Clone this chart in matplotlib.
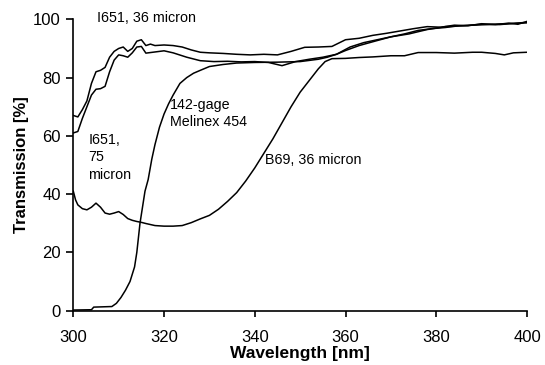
import matplotlib
matplotlib.use("Agg")
import matplotlib.pyplot as plt

plt.rcParams['font.family'] = ['Liberation Sans', 'DejaVu Sans']

# I651, 36 micron
wl_i651_36 = [300, 301, 302, 303, 304, 305, 306, 307, 308, 309, 310, 311, 312,
              313, 314, 315, 316, 317, 318, 320, 322, 324, 326, 328, 330, 333,
              336, 339, 342, 345, 348, 351, 354, 357, 360, 363, 366, 369, 372,
              375, 378, 381, 384, 387, 390, 393, 396, 398, 400]
tr_i651_36 = [67, 66.5, 69, 72, 78, 82, 82.5, 83.5, 87, 89, 90, 90.5, 89,
              90, 92.5, 93, 91, 91.5, 91, 91.2, 91, 90.5, 89.5, 88.7, 88.5, 88.3,
              88, 87.8, 88, 87.8, 89, 90.4, 90.5, 90.7, 93, 93.5, 94.5, 95.2, 96,
              96.8, 97.5, 97.3, 98, 97.8, 98.5, 98.2, 98.7, 98.3, 99.3]

# I651, 75 micron
wl_i651_75 = [300, 301, 302, 303, 304, 305, 306, 307, 308, 309, 310, 311, 312,
              313, 314, 315, 316, 318, 320, 322, 325, 328, 331, 334, 337, 340,
              343, 346, 349, 352, 355, 358, 361, 364, 367, 370, 373, 376, 379,
              382, 385, 388, 391, 394, 397, 400]
tr_i651_75 = [61, 61.5, 66, 70, 74, 76, 76.2, 77, 82, 86, 87.8, 87.5, 87,
              88.5, 90.5, 90.7, 88.4, 88.8, 89.2, 88.5, 87, 85.8, 85.5, 85.6, 85.4, 85.5,
              85.2, 84.1, 85.5, 86.3, 87, 88, 90.5, 92, 93, 94, 95, 96.2, 96.8,
              97.2, 97.8, 98, 98.2, 98.4, 98.6, 98.8]

# 142-gage Melinex 454
wl_melinex = [300, 304, 304.5, 308.5, 309.5, 310.5, 311.5, 312.5, 313.5, 314,
              314.7, 315.3, 315.8, 316.5, 317.3, 318, 319, 320, 321, 322, 323.5,
              325, 326.5, 328, 330, 333, 336, 340, 345, 350, 354, 356, 358, 360,
              363, 366, 370, 374, 378, 382, 386, 390, 394, 397, 400]
tr_melinex = [0.2, 0.3, 1.2, 1.4, 2.5, 4.5, 7, 10, 15, 20,
              30, 36, 41, 45, 52, 57, 63, 67.5, 71, 74, 78,
              80, 81.5, 82.5, 83.8, 84.5, 85, 85.2, 85.3, 85.5, 86.3, 87, 88, 89.3,
              91, 92.3, 94, 95, 96.5, 97.5, 97.8, 98.3, 98.2, 98.6, 99]

# B69, 36 micron
wl_b69 = [300, 300.5, 301, 302, 303, 304, 305, 306, 307, 308, 309, 310, 311,
          312, 313, 314, 315, 316, 318, 320, 322, 324, 326, 328, 330, 332, 334,
          336, 338, 340, 342, 344, 346, 348, 350, 352, 354, 355.5, 357, 360,
          363, 366, 370, 373, 376, 380, 384, 388, 390, 393, 395, 397, 400]
tr_b69 = [41, 38, 36.3, 35, 34.6, 35.5, 36.9, 35.5, 33.5, 33.1, 33.5, 34, 33,
          31.6, 31, 30.6, 30.3, 29.9, 29.2, 29, 29, 29.2, 30.2, 31.5, 32.7, 34.8, 37.5,
          40.5, 44.5, 49, 54, 59, 64.5, 70, 75, 79, 83, 85.5, 86.5, 86.6,
          86.9, 87.1, 87.5, 87.5, 88.6, 88.6, 88.4, 88.7, 88.7, 88.3, 87.8, 88.5, 88.7]

x_ticks = [300, 320, 340, 360, 380, 400]
y_ticks = [0, 20, 40, 60, 80, 100]

fig = plt.figure(figsize=(5.45, 3.65), dpi=100)
ax = fig.add_axes([0.1345, 0.149, 0.8325, 0.798])

for wl, tr in [(wl_i651_36, tr_i651_36), (wl_i651_75, tr_i651_75),
               (wl_melinex, tr_melinex), (wl_b69, tr_b69)]:
    ax.plot(wl, tr, color='black', linewidth=1.1)

ax.set_xlim(300, 400)
ax.set_ylim(0, 100)
ax.set_xticks(x_ticks)
ax.set_yticks(y_ticks)
ax.spines['top'].set_visible(False)
ax.spines['right'].set_visible(False)
ax.spines['left'].set_linewidth(1.2)
ax.spines['bottom'].set_linewidth(1.2)
ax.tick_params(axis='x', direction='out', length=4, width=1.2, labelsize=12, pad=10)
ax.tick_params(axis='y', direction='out', length=5, width=1.2, labelsize=12, pad=4)

ax.set_xlabel('Wavelength [nm]', fontsize=12.5, fontweight='bold', labelpad=1)
ax.set_ylabel('Transmission [%]', fontsize=12, fontweight='bold', labelpad=3)

ax.text(305.2, 100.3, 'I651, 36 micron', fontsize=10.3, va='center', ha='left')
ax.text(303.3, 61, 'I651,\n75\nmicron', fontsize=10.3, va='top', ha='left',
        linespacing=1.3)
ax.text(321.3, 73, '142-gage\nMelinex 454', fontsize=10.3, va='top', ha='left',
        linespacing=1.25)
ax.text(342.3, 51.7, 'B69, 36 micron', fontsize=10.3, va='center', ha='left')

fig.savefig('out.png', dpi=100)
